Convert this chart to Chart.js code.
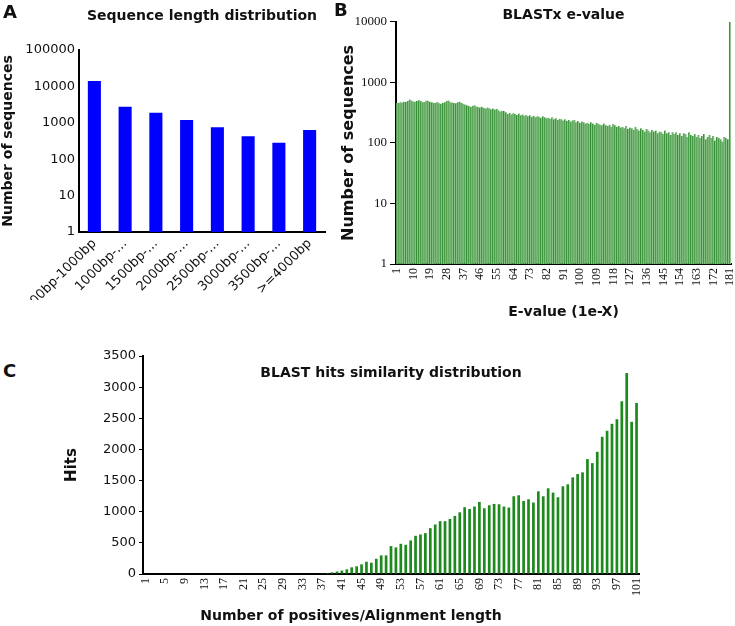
<!DOCTYPE html>
<html>
<head>
<meta charset="utf-8">
<script src="https://cdn.jsdelivr.net/npm/chart.js@4.4.0/dist/chart.umd.min.js"></script>
<style>
  body { margin: 0; background: #fff; }
  #wrap { position: relative; width: 735px; height: 626px; overflow: hidden; }
  canvas { position: absolute; }
  .tag { position: absolute; font: bold 18px "DejaVu Sans", sans-serif; line-height: 1; color: #111; }
</style>
</head>
<body>
<div id="wrap">
  <canvas id="chartA" width="335" height="300" style="left:0;top:0"></canvas>
  <canvas id="chartB" width="405" height="330" style="left:330px;top:0"></canvas>
  <canvas id="chartC" width="582" height="286" style="left:63px;top:340px"></canvas>
  <div class="tag" style="left:3px;top:3px">A</div>
  <div class="tag" style="left:334px;top:1px">B</div>
  <div class="tag" style="left:3px;top:362px">C</div>
</div>
<script>
// A: sequence length distribution
const aLabels = ['200bp-1000bp', '1000bp-…', '1500bp-…', '2000bp-…', '2500bp-…', '3000bp-…', '3500bp-…', '>=4000bp'];
const aValues = [14000, 2750, 1900, 1200, 750, 430, 285, 630];
const aTicks = [1, 10, 100, 1000, 10000, 100000];

// B: BLASTx e-value, 1e-1 .. 1e-181
const bValues = [
  460, 455, 470, 465, 480, 475, 490, 520, 500, 485,
  480, 495, 505, 490, 470, 475, 500, 495, 480, 470,
  455, 460, 475, 450, 445, 460, 470, 490, 500, 470,
  465, 455, 450, 470, 480, 460, 445, 430, 420, 405,
  395, 410, 420, 400, 390, 385, 395, 380, 370, 385,
  375, 360, 370, 355, 365, 345, 330, 340, 335, 320,
  300, 315, 295, 310, 300, 290, 305, 285, 295, 280,
  290, 275, 285, 270, 280, 265, 275, 270, 260, 275,
  265, 255, 260, 250, 265, 245, 255, 240, 250, 245,
  235, 245, 230, 240, 225, 235, 240, 220, 230, 215,
  225, 220, 210, 215, 205, 220, 210, 200, 215, 205,
  200, 195, 210, 195, 190, 200, 185, 205, 195, 185,
  190, 180, 185, 175, 190, 170, 180, 175, 165, 185,
  170, 160, 175, 165, 155, 170, 160, 150, 165, 155,
  160, 145, 155, 150, 140, 160, 145, 150, 135, 150,
  140, 150, 135, 145, 130, 145, 140, 125, 150, 135,
  130, 140, 125, 135, 120, 130, 140, 115, 125, 135,
  120, 130, 110, 125, 120, 115, 105, 125, 120, 115,
  10000
];
const bLabels = bValues.map((v, i) => String(i + 1));
const bTicks = [1, 10, 100, 1000, 10000];
const bLabelStep = 9;

// C: BLAST hits similarity, 1 .. 101
const cValues = [
  0, 0, 0, 0, 0, 0, 0, 0, 0, 0,
  0, 0, 0, 0, 0, 0, 0, 0, 0, 0,
  0, 0, 0, 0, 0, 0, 0, 0, 0, 0,
  0, 0, 0, 0, 0, 0, 5,
  16, 27, 40, 55, 75, 107, 123, 155, 197, 181,
  245, 299, 299, 448, 427, 485, 469, 539, 613, 635,
  656, 736, 795, 848, 848, 885, 933, 990, 1072, 1045,
  1083, 1157, 1056, 1104, 1125, 1120, 1083, 1067, 1248, 1264,
  1173, 1200, 1147, 1328, 1248, 1376, 1307, 1232, 1408, 1440,
  1552, 1605, 1632, 1845, 1780, 1962, 2203, 2299, 2411, 2485,
  2773, 3227, 2443, 2747
];
const cLabels = cValues.map((v, i) => String(i + 1));
const cTicks = [0, 500, 1000, 1500, 2000, 2500, 3000, 3500];
const cLabelStep = 4;

Chart.defaults.font.family = '"DejaVu Sans", sans-serif';
Chart.defaults.color = '#111';
Chart.defaults.animation = false;
const serif = '"Liberation Serif", "Times New Roman", serif';

// force the axis box sizes so the plot areas land where the figure has them
function fixedWidth(w) {
  return function (scale) { scale.width = w; scale.paddingTop = 0; scale.paddingBottom = 0; };
}
function fixedHeight(h) {
  return function (scale) { scale.height = h; scale.paddingLeft = 0; scale.paddingRight = 0; };
}
const noGrid = { display: true, drawOnChartArea: false, drawTicks: false };
const axisLine = { color: '#000', width: 2 };
const off = { legend: { display: false }, tooltip: { enabled: false } };

new Chart(document.getElementById('chartA'), {
  type: 'bar',
  data: {
    labels: aLabels,
    datasets: [{ data: aValues, backgroundColor: '#0000ff', categoryPercentage: 0.85, barPercentage: 0.5 }]
  },
  options: {
    responsive: false,
    layout: { padding: { left: 0, right: 10, top: 0, bottom: 0 } },
    plugins: {
      ...off,
      title: {
        display: true, text: 'Sequence length distribution', fullSize: false, color: '#111',
        font: { size: 14, weight: 'bold' }, padding: { top: 8, bottom: 25.2 }
      }
    },
    scales: {
      x: {
        grid: noGrid, border: axisLine,
        ticks: { autoSkip: false, minRotation: 45, maxRotation: 45, padding: 4, font: { size: 13 } },
        afterFit: fixedHeight(68)
      },
      y: {
        type: 'logarithmic', min: 1, max: 100000,
        grid: noGrid, border: axisLine,
        ticks: { padding: 4, font: { size: 13 }, callback: v => String(v) },
        afterBuildTicks: s => { s.ticks = aTicks.map(v => ({ value: v })); },
        title: { display: true, text: 'Number of sequences', color: '#111', font: { size: 14, weight: 'bold' }, padding: { top: 0, bottom: 0 } },
        afterFit: fixedWidth(79)
      }
    }
  }
});

new Chart(document.getElementById('chartB'), {
  type: 'bar',
  data: {
    labels: bLabels,
    datasets: [{
      data: bValues, backgroundColor: '#8cc489', borderColor: '#2b8a2b',
      borderWidth: { left: 1, top: 0, right: 0, bottom: 0 },
      categoryPercentage: 1, barPercentage: 1
    }]
  },
  options: {
    responsive: false,
    layout: { padding: { left: 0, right: 4, top: 0, bottom: 0 } },
    plugins: {
      ...off,
      title: {
        display: true, text: 'BLASTx e-value', fullSize: false, color: '#111',
        font: { size: 14, weight: 'bold' }, padding: { top: 7, bottom: -2 }
      }
    },
    scales: {
      x: {
        grid: noGrid, border: axisLine,
        ticks: {
          autoSkip: false, minRotation: 90, maxRotation: 90, padding: 4,
          font: { family: serif, size: 12 },
          callback: function (v, i) { return i % bLabelStep === 0 ? this.getLabelForValue(v) : ''; }
        },
        title: { display: true, text: 'E-value (1e-X)', color: '#111', font: { size: 14, weight: 'bold' }, padding: { top: 0, bottom: 9 } },
        afterFit: fixedHeight(66)
      },
      y: {
        type: 'logarithmic', min: 1, max: 10000,
        grid: { display: true, drawOnChartArea: false, drawTicks: true, tickLength: 6, color: '#000' },
        border: axisLine,
        ticks: { padding: 3, font: { family: serif, size: 13 }, callback: v => String(v) },
        afterBuildTicks: s => { s.ticks = bTicks.map(v => ({ value: v })); },
        title: { display: true, text: 'Number of sequences', color: '#111', font: { size: 16, weight: 'bold' }, padding: { top: 9, bottom: 0 } },
        afterFit: fixedWidth(66)
      }
    }
  }
});

new Chart(document.getElementById('chartC'), {
  type: 'bar',
  data: {
    labels: cLabels,
    datasets: [{ data: cValues, backgroundColor: '#1e8a1e', categoryPercentage: 1, barPercentage: 0.55 }]
  },
  options: {
    responsive: false,
    layout: { padding: { left: 0, right: 6, top: 0, bottom: 0 } },
    plugins: {
      ...off,
      title: {
        display: true, text: 'BLAST hits similarity distribution', fullSize: false, color: '#111',
        font: { size: 14, weight: 'bold' }, padding: { top: 24.6, bottom: -25.4 }
      },
      subtitle: {
        display: true, position: 'bottom', text: 'Number of positives/Alignment length', color: '#111',
        font: { size: 14, weight: 'bold' }, padding: { top: 2, bottom: 1.2 }
      }
    },
    scales: {
      x: {
        grid: noGrid, border: axisLine,
        ticks: {
          autoSkip: false, minRotation: 90, maxRotation: 90, padding: 4,
          font: { family: serif, size: 12 },
          callback: function (v, i) { return i % cLabelStep === 0 ? this.getLabelForValue(v) : ''; }
        },
        afterFit: fixedHeight(32)
      },
      y: {
        min: 0, max: 3500,
        grid: { display: true, drawOnChartArea: false, drawTicks: true, tickLength: 4, color: '#000' },
        border: axisLine,
        ticks: { padding: 3, font: { size: 13 }, callback: v => String(v) },
        afterBuildTicks: s => { s.ticks = cTicks.map(v => ({ value: v })); },
        title: { display: true, text: 'Hits', color: '#111', font: { size: 15, weight: 'bold' }, padding: { top: 0, bottom: 0 } },
        afterFit: fixedWidth(80)
      }
    }
  }
});
</script>
</body>
</html>
